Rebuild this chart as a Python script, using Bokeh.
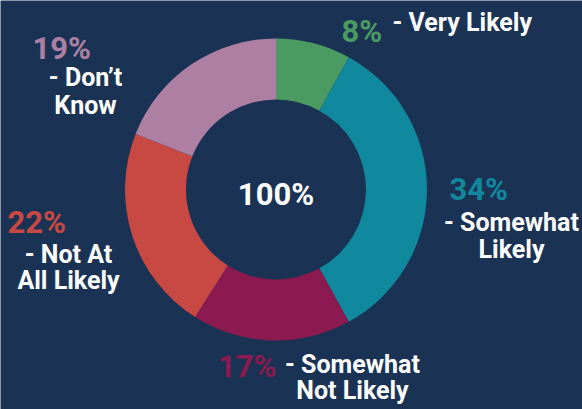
import math
from bokeh.plotting import figure
from bokeh.models import ColumnDataSource, Range1d
from bokeh.core.properties import value
from bokeh.embed import file_html
from bokeh.resources import INLINE

# ---- data ----
categories = ["Very Likely", "Somewhat Likely", "Somewhat Not Likely", "Not At All Likely", "Don’t Know"]
percents = [8, 34, 17, 22, 19]
colors = ["#4b9a62", "#10889e", "#8a1a50", "#c84843", "#ad80a3"]
pct_labels = ["8%", "34%", "17%", "22%", "19%"]
label_lines = [["- Very Likely"], ["- Somewhat", "Likely"], ["- Somewhat", "Not Likely"],
               ["- Not At", "All Likely"], ["- Don’t", "Know"]]
center_label = "100%"

# ---- layout / style ----
W, H = 582, 409
BG = "#1a3354"
PCT_FONT = "Roboto"
LAB_FONT = "Roboto"
cx, cy = 275.5, 189.0          # image coords
r_in, r_out = 90, 151
SHIFT = 11.5                   # baseline correction

def Y(y):
    return H - y

def TY(y):
    return H - (y - SHIFT)

p = figure(width=W, height=H, x_range=Range1d(0, W), y_range=Range1d(0, H),
           output_backend="svg", toolbar_location=None, min_border=0,
           background_fill_color=BG, border_fill_color=BG)
p.axis.visible = False
p.grid.visible = False
p.outline_line_color = None

total = sum(percents)
starts, ends = [], []
cum = 0
for v in percents:
    a0 = math.pi / 2 - 2 * math.pi * cum / total
    cum += v
    a1 = math.pi / 2 - 2 * math.pi * cum / total
    starts.append(a1)
    ends.append(a0)

src = ColumnDataSource(dict(x=[cx] * len(percents), y=[Y(cy)] * len(percents),
                            start=starts, end=ends, color=colors, cat=categories))
p.annular_wedge(x="x", y="y", inner_radius=r_in, outer_radius=r_out,
                start_angle="start", end_angle="end", direction="anticlock",
                fill_color="color", line_color=None, source=src)

# percentage positions: (x, baseline, align)
pct_pos = [(341, 42, "left"), (449, 200.5, "left"), (276, 377, "right"),
           (7, 233.5, "left"), (32, 59, "left")]
# label positions: (x, [baselines], align)
lab_pos = [(392, [33.5], "left"), (511, [233.5, 260.5], "center"),
           (352, [375, 401.5], "center"), (68, [265, 291.5], "center"),
           (85, [88.5, 116.5], "center")]

for i in range(len(percents)):
    x, yb, al = pct_pos[i]
    p.text(x=[x], y=[TY(yb)], text=[pct_labels[i]], text_color=colors[i],
           text_font=value(PCT_FONT), text_font_style="bold", text_font_size="31px",
           text_align=al, text_baseline="alphabetic")
    lx, lys, lal = lab_pos[i]
    for line, ly in zip(label_lines[i], lys):
        p.text(x=[lx], y=[TY(ly)], text=[line], text_color="white",
               text_font=value(LAB_FONT), text_font_style="bold", text_font_size="25px",
               text_align=lal, text_baseline="alphabetic")

p.text(x=[cx], y=[TY(205.5)], text=[center_label], text_color="white",
       text_font=value(PCT_FONT), text_font_style="bold", text_font_size="31px",
       text_align="center", text_baseline="alphabetic")

open("out.html", "w").write(file_html(p, INLINE))
